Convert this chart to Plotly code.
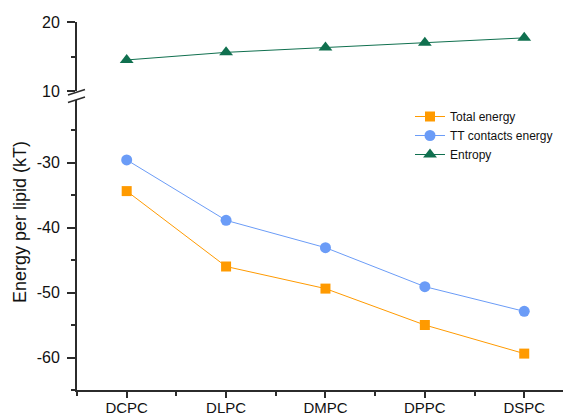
import plotly.graph_objects as go

lipids = ["DCPC", "DLPC", "DMPC", "DPPC", "DSPC"]
total_energy = [-34.4, -46.0, -49.4, -55.0, -59.4]
tt_contacts_energy = [-29.6, -38.9, -43.1, -49.1, -52.9]
entropy = [14.5, 15.6, 16.3, 17.0, 17.7]

W, H = 564, 417
L, R, T, B = 77, 1, 22, 27
plot_w = W - L - R
plot_h = H - T - B

def px_x(px):
    return (px - L) / plot_w

def px_y(py):
    return (H - B - py) / plot_h

axis_color = "#2b2b2b"
font_family = "Liberation Sans, Arial, sans-serif"
xpos = [1, 2, 3, 4, 5]

# break between the two y segments (in pixel rows)
upper_bottom_px = 91
lower_top_px = 100
lower_scale = 6.5  # px per unit on lower segment
lower_top_val = -65 + (H - B - lower_top_px) / lower_scale

fig = go.Figure()
fig.add_trace(go.Scatter(
    x=xpos, y=total_energy, name="Total energy", mode="lines+markers",
    line=dict(color="#ff9a00", width=1),
    marker=dict(symbol="square", size=10, color="#ff9a00"),
    yaxis="y", cliponaxis=False,
))
fig.add_trace(go.Scatter(
    x=xpos, y=tt_contacts_energy, name="TT contacts energy", mode="lines+markers",
    line=dict(color="#6b9cf7", width=1),
    marker=dict(symbol="circle", size=11, color="#6b9cf7"),
    yaxis="y", cliponaxis=False,
))
fig.add_trace(go.Scatter(
    x=xpos, y=entropy, name="Entropy", mode="lines+markers",
    line=dict(color="#10704f", width=1),
    marker=dict(symbol="triangle-up", size=12, color="#10704f"),
    yaxis="y2", cliponaxis=False,
))

tickfont = dict(family=font_family, size=16, color="#111")

fig.update_layout(
    width=W, height=H,
    margin=dict(l=L, r=R, t=T, b=B),
    paper_bgcolor="white", plot_bgcolor="white",
    font=dict(family=font_family, color="#111"),
    showlegend=True,
    legend=dict(
        x=px_x(410), y=px_y(102), xanchor="left", yanchor="top",
        bgcolor="rgba(0,0,0,0)", font=dict(family=font_family, size=12, color="#111"),
        tracegroupgap=0,
    ),
    xaxis=dict(
        range=[0.5, 5.39], domain=[0, 1], anchor="y", automargin=False,
        tickvals=xpos, ticktext=lipids,
        tickfont=dict(family=font_family, size=15, color="#111"),
        ticklabelstandoff=-3,
        showline=True, linecolor=axis_color, linewidth=2,
        ticks="outside", ticklen=6, tickwidth=2, tickcolor=axis_color,
        minor=dict(tickvals=[0.5, 1.5, 2.5, 3.5, 4.5], ticks="outside",
                   ticklen=4, tickwidth=2, tickcolor=axis_color),
        showgrid=False, zeroline=False,
    ),
    yaxis=dict(
        range=[-65, lower_top_val], domain=[0, px_y(lower_top_px)], anchor="x",
        automargin=False,
        tickvals=[-60, -50, -40, -30], ticktext=["-60", "-50", "-40", "-30"],
        tickfont=tickfont, ticklabelstandoff=4,
        showline=True, linecolor=axis_color, linewidth=2,
        ticks="outside", ticklen=8, tickwidth=2, tickcolor=axis_color,
        minor=dict(tickvals=[-65, -55, -45, -35, -25], ticks="outside",
                   ticklen=4, tickwidth=2, tickcolor=axis_color),
        showgrid=False, zeroline=False,
    ),
    yaxis2=dict(
        range=[10, 20], domain=[px_y(upper_bottom_px), 1], anchor="x",
        automargin=False,
        tickvals=[10, 20], ticktext=["10", "20"], tickfont=tickfont,
        ticklabelstandoff=4,
        showline=True, linecolor=axis_color, linewidth=2,
        ticks="outside", ticklen=8, tickwidth=2, tickcolor=axis_color,
        minor=dict(tickvals=[15], ticks="outside",
                   ticklen=4, tickwidth=2, tickcolor=axis_color),
        showgrid=False, zeroline=False,
    ),
    annotations=[dict(
        text="Energy per lipid (kT)", textangle=-90,
        xref="paper", yref="paper", x=px_x(20), y=px_y(222),
        xanchor="center", yanchor="middle", showarrow=False,
        font=dict(family=font_family, size=18, color="#111"),
    )],
    shapes=[
        dict(type="line", xref="paper", yref="paper",
             x0=px_x(68), y0=px_y(95), x1=px_x(85), y1=px_y(89.5),
             line=dict(color=axis_color, width=1.5)),
        dict(type="line", xref="paper", yref="paper",
             x0=px_x(68), y0=px_y(102.5), x1=px_x(85), y1=px_y(97),
             line=dict(color=axis_color, width=1.5)),
    ],
)

fig.write_html("out.html")
